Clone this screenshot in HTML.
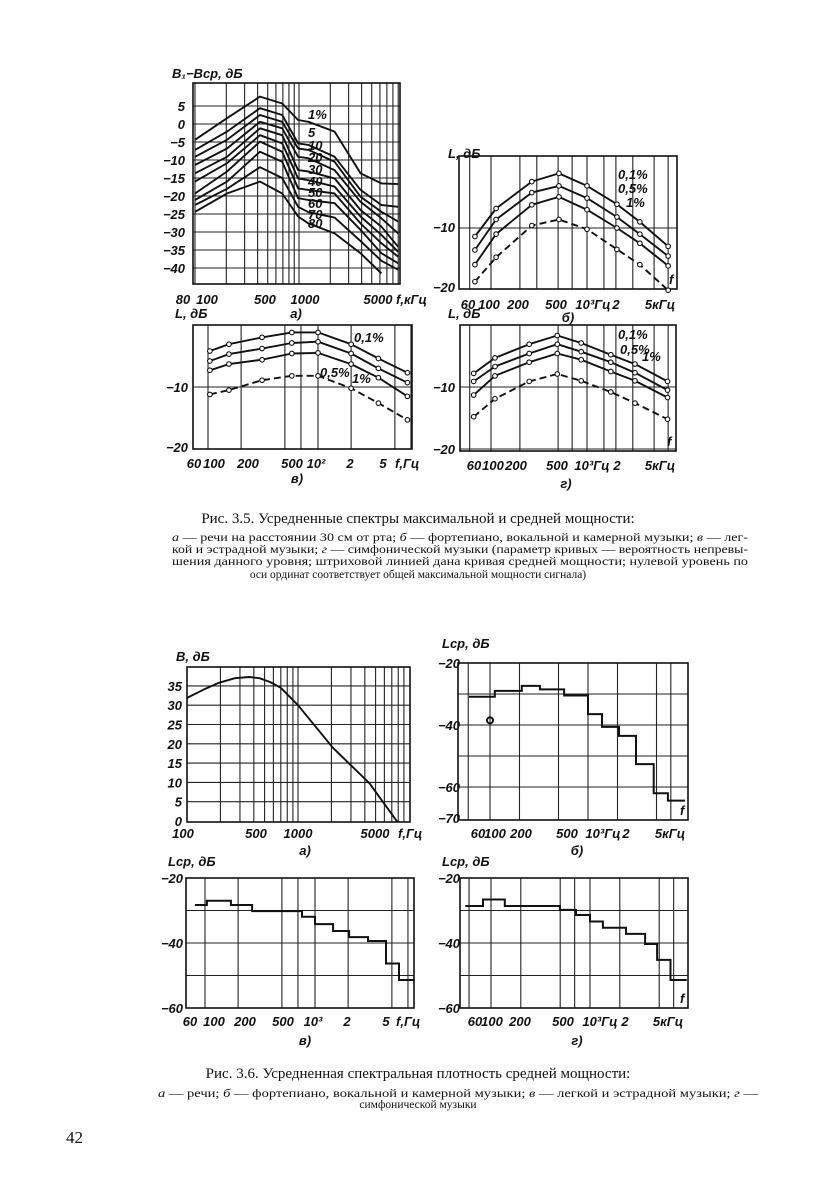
<!DOCTYPE html>
<html lang="ru"><head><meta charset="utf-8">
<style>
html,body{margin:0;padding:0;background:#fff;}
svg{display:block;}
.ax{font-family:"Liberation Sans",sans-serif;font-style:italic;font-weight:bold;font-size:13px;fill:#111;}
.cap{font-family:"Liberation Serif",serif;fill:#111;}
</style></head>
<body>
<svg id="page" width="837" height="1200" viewBox="0 0 837 1200" xmlns="http://www.w3.org/2000/svg">
<g id="figs"></g>
<text class="cap" x="418" y="523" text-anchor="middle" font-size="15">Рис. 3.5. Усредненные спектры максимальной и средней мощности:</text>
<text class="cap" x="172" y="541" font-size="11.5" textLength="576" lengthAdjust="spacingAndGlyphs"><tspan font-style="italic">а</tspan> — речи на расстоянии 30 см от рта; <tspan font-style="italic">б</tspan> — фортепиано, вокальной и камерной музыки; <tspan font-style="italic">в</tspan> — лег-</text>
<text class="cap" x="172" y="553" font-size="11.5" textLength="576" lengthAdjust="spacingAndGlyphs">кой и эстрадной музыки; <tspan font-style="italic">г</tspan> — симфонической музыки (параметр кривых — вероятность непревы-</text>
<text class="cap" x="172" y="565" font-size="11.5" textLength="576" lengthAdjust="spacingAndGlyphs">шения данного уровня; штриховой линией дана кривая средней мощности; нулевой уровень по</text>
<text class="cap" x="418" y="578" text-anchor="middle" font-size="11.5">оси ординат соответствует общей максимальной мощности сигнала)</text>
<text class="cap" x="418" y="1078" text-anchor="middle" font-size="15">Рис. 3.6. Усредненная спектральная плотность средней мощности:</text>
<text class="cap" x="158" y="1097" font-size="11.5" textLength="600" lengthAdjust="spacingAndGlyphs"><tspan font-style="italic">а</tspan> — речи;  <tspan font-style="italic">б</tspan> — фортепиано, вокальной и камерной музыки; <tspan font-style="italic">в</tspan> — легкой и эстрадной музыки; <tspan font-style="italic">г</tspan> —</text>
<text class="cap" x="418" y="1108" text-anchor="middle" font-size="11.5">симфонической музыки</text>
<text class="cap" x="66" y="1143" font-size="17">42</text>
</svg>
<script>
// ---------- Fig 3.5a data ----------
const aFreq=[100,203,422,690,980,1230,2200,3900,6200,9000];
const aLabels=["1%","5","10","20","30","40","50","60","70","80"];
const a1=[-4.4,1.6,7.6,5.7,1.1,0.6,-2.1,-13.7,-16.5,-16.7];
const a5=[-7.2,-2.1,4.4,2.5,-5.4,-5.8,-9.1,-18.3,-22.5,-23];
const a10=[-9.1,-4.4,2.5,0.6,-6.8,-7.2,-10.5,-20.2,-24.4,-27.1];
const a20=[-11.4,-6.8,0.6,-1.2,-9.1,-9.5,-12.8,-21.6,-26.2,-30.4];
const a30=[-13.7,-9.1,-1.2,-3.1,-12.8,-13.2,-15.1,-23.9,-28.5,-34.1];
const a40=[-16,-10.9,-3.1,-5.4,-15.1,-15.6,-17.4,-25.7,-30.8,-35.5];
const a50=[-19.3,-13.2,-4.9,-7.7,-17.9,-18.3,-19.3,-27.6,-33.1,-36.9];
const a60=[-21.1,-16,-7.7,-10.5,-20.6,-21.1,-22,-29.4,-35.9,-38.7];
const a70=[-22.5,-18,-12,-15,-23,-24.5,-26,-32.5,-38,-40.5];
const a80=[-24.4,-19.3,-16,-19.3,-25.7,-27.6,-30.4,-35.9,-41.5];
const aTicks=[5,0,-5,-10,-15,-20,-25,-30,-35,-40];
// ---------- Fig 3.5б ----------
const bFreq=[68,113,266,510,1000,2050,3550,7000];
const b01=[-11.4,-6.8,-2.4,-1.05,-3.1,-6.1,-9,-13];
const b05=[-13.6,-8.6,-4.2,-3.1,-5.1,-8.2,-11,-14.6];
const b1=[-16,-11,-6.2,-4.9,-7,-10,-12.5,-16.2];
const bMean=[-18.8,-14.8,-9.6,-8.6,-10.2,-13.5,-16,-20.2];
// ---------- Fig 3.5в ----------
const cFreq=[104,155,310,578,1000,2000,3540,6500];
const c01=[-4.2,-3.1,-2,-1.2,-1.2,-3.1,-5.4,-7.7];
const c05=[-5.8,-4.7,-3.8,-2.9,-2.7,-4.6,-7,-9.3];
const c1=[-7.3,-6.3,-5.6,-4.6,-4.5,-6.3,-8.5,-11.5];
const cMean=[-11.2,-10.5,-8.9,-8.2,-8.2,-10.2,-12.6,-15.3];
// ---------- Fig 3.5г ----------
const dFreq=[66,110,250,490,870,1770,3160,6900];
const d01=[-7.8,-5.3,-3.1,-1.7,-2.9,-4.8,-6.3,-9.1];
const d05=[-9.1,-6.7,-4.6,-3.1,-4.3,-6,-7.7,-10.5];
const d1=[-11.3,-8.2,-6,-4.6,-5.6,-7.5,-9,-11.7];
const dMean=[-14.8,-11.9,-9.1,-7.9,-9,-10.8,-12.6,-15.2];
const lTicks=[-10,-20];
// ---------- Fig 3.6а ----------
const eFreq=[100,140,194,270,366,450,560,700,1000,2060,4400,7900];
const eVal=[31.9,34,35.8,37,37.3,37,36,34.5,30,19,9.8,-0.3];
const eTicks=[35,30,25,20,15,10,5,0];
// ---------- Fig 3.6б (steps: edges, levels) ----------
const fEdges=[61,112,211,323,570,1000,1390,2070,3090,4680,6540,9800];
const fLevels=[-30.9,-29,-27.4,-28.5,-30.5,-36.5,-40.6,-43.5,-52.6,-62,-64.4];
const fTicks=[-20,-40,-60,-70];
// ---------- Fig 3.6в ----------
const gEdges=[81,104,172,268,762,1000,1460,2040,3030,4420,5800,8100];
const gLevels=[-28.3,-27,-28.3,-30.2,-31.9,-34.2,-36.3,-38.2,-39.4,-46.3,-51.4];
// ---------- Fig 3.6г ----------
const hEdges=[55,83,138,497,722,1000,1350,2310,3600,4760,6510,9480];
const hLevels=[-28.6,-26.6,-28.6,-29.8,-31.4,-33.4,-35.3,-37.2,-40.3,-45.2,-51.4];
const lsTicks=[-20,-40,-60];

const NS="http://www.w3.org/2000/svg";
const root=document.getElementById('figs');
function mk(tag,attrs,parent){const e=document.createElementNS(NS,tag);for(const k in attrs)e.setAttribute(k,attrs[k]);(parent||root).appendChild(e);return e;}
function txt(x,y,s,parent,anchor,size){const t=mk('text',{x:x,y:y,class:'ax','text-anchor':anchor||'start'},parent);if(size)t.setAttribute('font-size',size);t.textContent=s;return t;}
function chart(name,box,xref,yref){
  const g=mk('g',{});
  
  
  const X=f=>xref.x0+(Math.log10(f)-Math.log10(xref.f0))*xref.dec;
  const Y=v=>yref.y0+(v-yref.v0)*yref.k;
  return {g,X,Y,box};
}
function frame(c,vgrid,hgrid){
  const b=c.box;
  vgrid.forEach(f=>{const x=c.X(f);if(x>b.l+1&&x<b.r-1){const l=mk('line',{x1:x,x2:x,y1:b.t,y2:b.b,stroke:'#222','stroke-width':1.1},c.g);}});
  hgrid.forEach(v=>{const y=c.Y(v);if(y>b.t+1&&y<b.b-1){const l=mk('line',{x1:b.l,x2:b.r,y1:y,y2:y,stroke:'#222','stroke-width':1.1},c.g);}});
  const r=mk('rect',{x:b.l,y:b.t,width:b.r-b.l,height:b.b-b.t,fill:'none',stroke:'#111','stroke-width':1.6},c.g);
  
  
}
function line(c,fs,vs,name,dash,marks){
  const pts=vs.map((v,i)=>c.X(fs[i]).toFixed(1)+','+c.Y(v).toFixed(1)).join(' ');
  const p=mk('polyline',{points:pts,fill:'none',stroke:'#111','stroke-width':1.9,'stroke-linejoin':'round'},c.g);
  if(dash)p.setAttribute('stroke-dasharray','7 4');
  
  
  if(marks)vs.forEach((v,i)=>{const m=mk('circle',{cx:c.X(fs[i]),cy:c.Y(v),r:2.3,fill:'#fff',stroke:'#111','stroke-width':1.1},c.g);});
}
function steps(c,edges,levels,name){
  let d='';
  levels.forEach((v,i)=>{const x0=c.X(edges[i]),x1=c.X(edges[i+1]),y=c.Y(v);d+=(i?'L':'M')+x0.toFixed(1)+' '+y.toFixed(1)+'L'+x1.toFixed(1)+' '+y.toFixed(1);});
  const p=mk('path',{d:d,fill:'none',stroke:'#111','stroke-width':2},c.g);
  
  
}
const decGrid=[60,70,80,90,100,200,300,400,500,600,700,800,900,1000,2000,3000,4000,5000,6000,7000,8000,9000];
const sparseGrid=[60,100,200,500,700,1000,2000,5000,7000];

// Fig 3.5 a
let c=chart('chart-35a',{l:193,r:400,t:83,b:284},{f0:100,x0:195,dec:104},{v0:0,y0:124,k:-3.6});
frame(c,decGrid,aTicks);
[a1,a5,a10,a20,a30,a40,a50,a60,a70,a80].forEach((s,i)=>line(c,aFreq,s,'curve-'+aLabels[i].replace('%','pct')));
aTicks.forEach(v=>txt(185,c.Y(v)+5,String(v).replace('-','−'),c.g,'end',14));
const aLy=[119,137,150,162,174,186,197,208,219,228];
aLabels.forEach((s,i)=>{const t=txt(308,aLy[i],s,c.g,'start',i?(i===1?13:10):15);});
txt(172,78,'B₁−Bср, дБ',c.g,'start',13);
[['80',183],['100',207],['500',265],['1000',305],['5000',378]].forEach(p=>txt(p[1],304,p[0],c.g,'middle',13));
txt(396,304,'f,кГц',c.g,'start',13);
txt(296,318,'а)',c.g,'middle',13);

// Fig 3.5 б
c=chart('chart-35b',{l:459,r:677,t:156,b:289},{f0:1000,x0:587,dec:96},{v0:0,y0:167,k:-6.1});
frame(c,sparseGrid.concat([300,1500,3000]),lTicks);
line(c,bFreq,b01,'curve-0.1pct',false,true);line(c,bFreq,b05,'curve-0.5pct',false,true);line(c,bFreq,b1,'curve-1pct',false,true);line(c,bFreq,bMean,'mean-curve',true,true);
txt(455,232,'−10',c.g,'end',13);txt(455,292,'−20',c.g,'end',13);
txt(448,158,'L, дБ',c.g,'start',13);
[['60',468],['100',489],['200',518],['500',556],['10³Гц',593],['2',616]].forEach(p=>txt(p[1],309,p[0],c.g,'middle',13));
txt(660,309,'5кГц',c.g,'middle',13);txt(568,322,'б)',c.g,'middle',13);
txt(618,179,'0,1%',c.g,'start',12);txt(618,193,'0,5%',c.g,'start',12);txt(626,207,'1%',c.g,'start',12);
txt(669,284,'f',c.g,'start',12);

// Fig 3.5 в
c=chart('chart-35v',{l:193,r:412,t:325,b:449},{f0:1000,x0:318,dec:110},{v0:0,y0:325,k:-6.2});
frame(c,[60,100,200,500,700,1000,2000,5000,7000],lTicks);
line(c,cFreq,c01,'curve-0.1pct',false,true);line(c,cFreq,c05,'curve-0.5pct',false,true);line(c,cFreq,c1,'curve-1pct',false,true);line(c,cFreq,cMean,'mean-curve',true,true);
txt(188,392,'−10',c.g,'end',13);txt(188,452,'−20',c.g,'end',13);
txt(175,318,'L, дБ',c.g,'start',13);
[['60',194],['100',214],['200',248],['500',292],['10²',316],['2',350],['5',383]].forEach(p=>txt(p[1],468,p[0],c.g,'middle',13));
txt(395,468,'f,Гц',c.g,'start',13);txt(297,483,'в)',c.g,'middle',13);
txt(354,342,'0,1%',c.g,'start',12);txt(320,377,'0,5%',c.g,'start',12);txt(352,383,'1%',c.g,'start',12);

// Fig 3.5 г
c=chart('chart-35g',{l:460,r:676,t:325,b:451},{f0:1000,x0:587,dec:96},{v0:0,y0:325,k:-6.2});
frame(c,sparseGrid.concat([1500,3000]),lTicks);
line(c,dFreq,d01,'curve-0.1pct',false,true);line(c,dFreq,d05,'curve-0.5pct',false,true);line(c,dFreq,d1,'curve-1pct',false,true);line(c,dFreq,dMean,'mean-curve',true,true);
txt(455,392,'−10',c.g,'end',13);txt(455,454,'−20',c.g,'end',13);
txt(448,318,'L, дБ',c.g,'start',13);
[['60',474],['100',493],['200',516],['500',557],['10³Гц',592],['2',617]].forEach(p=>txt(p[1],470,p[0],c.g,'middle',13));
txt(660,470,'5кГц',c.g,'middle',13);txt(566,488,'г)',c.g,'middle',13);
txt(618,339,'0,1%',c.g,'start',12);txt(620,354,'0,5%',c.g,'start',12);txt(642,361,'1%',c.g,'start',12);
txt(667,446,'f',c.g,'start',12);

// Fig 3.6 а
c=chart('chart-36a',{l:187,r:410,t:667,b:822},{f0:100,x0:187,dec:111},{v0:0,y0:821,k:-3.86});
frame(c,decGrid,eTicks);
line(c,eFreq,eVal,'curve-B');
eTicks.forEach(v=>txt(182,c.Y(v)+5,String(v),c.g,'end',14));
txt(176,661,'B, дБ',c.g,'start',13);
[['100',183],['500',256],['1000',298],['5000',375]].forEach(p=>txt(p[1],838,p[0],c.g,'middle',13));
txt(398,838,'f,Гц',c.g,'start',13);txt(305,855,'а)',c.g,'middle',13);

// Fig 3.6 б
c=chart('chart-36b',{l:458,r:688,t:663,b:820},{f0:1000,x0:588,dec:98},{v0:-20,y0:663,k:-3.1});
frame(c,[60,100,200,500,1000,2000,5000,7000],[-30,-40,-50,-60]);
steps(c,fEdges,fLevels,'step-curve');
const mk1=mk('circle',{cx:c.X(100),cy:c.Y(-38.5),r:3,fill:'none',stroke:'#111','stroke-width':2},c.g);


fTicks.forEach(v=>txt(460,(v===-20?668:v===-70?823:c.Y(v)+5),String(v).replace('-','−'),c.g,'end',14));
txt(442,648,'Lср, дБ',c.g,'start',13);
[['60',478],['100',495],['200',521],['500',567],['10³Гц',603],['2',626]].forEach(p=>txt(p[1],838,p[0],c.g,'middle',13));
txt(670,838,'5кГц',c.g,'middle',13);txt(577,855,'б)',c.g,'middle',13);
txt(680,815,'f',c.g,'start',12);

// Fig 3.6 в
c=chart('chart-36v',{l:186,r:414,t:878,b:1008},{f0:1000,x0:315,dec:110},{v0:-20,y0:878,k:-3.25});
frame(c,[60,100,200,500,700,1000,2000,5000,7000],[-30,-40,-50]);
steps(c,gEdges,gLevels,'step-curve');
lsTicks.forEach(v=>txt(183,c.Y(v)+5,String(v).replace('-','−'),c.g,'end',14));
txt(168,866,'Lср, дБ',c.g,'start',13);
[['60',190],['100',214],['200',245],['500',283],['10³',313],['2',347],['5',386]].forEach(p=>txt(p[1],1026,p[0],c.g,'middle',13));
txt(396,1026,'f,Гц',c.g,'start',13);txt(305,1045,'в)',c.g,'middle',13);

// Fig 3.6 г
c=chart('chart-36g',{l:460,r:688,t:878,b:1008},{f0:1000,x0:590,dec:99},{v0:-20,y0:878,k:-3.25});
frame(c,[60,100,200,500,700,1000,2000,5000,7000],[-30,-40,-50]);
steps(c,hEdges,hLevels,'step-curve');
lsTicks.forEach(v=>txt(460,c.Y(v)+5,String(v).replace('-','−'),c.g,'end',14));
txt(442,866,'Lср, дБ',c.g,'start',13);
[['60',475],['100',492],['200',520],['500',563],['10³Гц',600],['2',625]].forEach(p=>txt(p[1],1026,p[0],c.g,'middle',13));
txt(668,1026,'5кГц',c.g,'middle',13);txt(577,1045,'г)',c.g,'middle',13);
txt(680,1003,'f',c.g,'start',12);
</script>
</body></html>
